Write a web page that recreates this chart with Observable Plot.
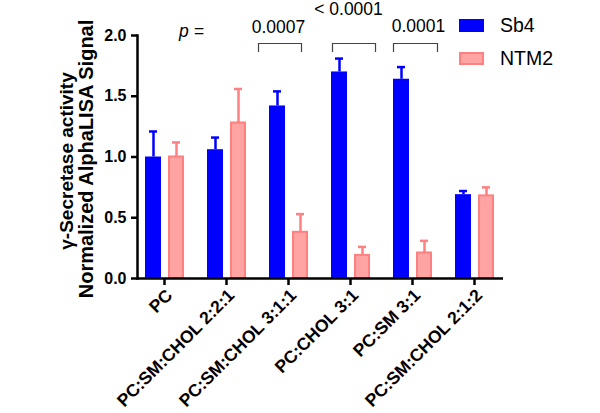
<!DOCTYPE html>
<html>
<head>
<meta charset="utf-8">
<script src="https://cdn.jsdelivr.net/npm/d3@7"></script>
<script src="https://cdn.jsdelivr.net/npm/@observablehq/plot@0.6"></script>
<style>
  html, body { margin: 0; padding: 0; background: #fff; }
  #wrap { position: relative; width: 600px; height: 413px; font-family: "Liberation Sans", Arial, Helvetica, sans-serif; }
  #wrap svg { font-family: "Liberation Sans", Arial, Helvetica, sans-serif; }
  g[aria-label="x-axis tick label"], g[aria-label="y-axis tick label"] { font-weight: bold; }
  .legend { position: absolute; left: 459px; top: 9px; font-size: 19.5px; color: #000; }
  .legend .row { display: flex; align-items: center; height: 33px; }
  .legend .sw { width: 25px; height: 13px; box-sizing: border-box; margin-right: 16px; }
</style>
</head>
<body>
<div id="wrap"></div>
<script>
// ---- data ----
const categories = ["PC", "PC:SM:CHOL 2:2:1", "PC:SM:CHOL 3:1:1", "PC:CHOL 3:1", "PC:SM 3:1", "PC:SM:CHOL 2:1:2"];
const sb4 = [1.00, 1.06, 1.42, 1.70, 1.64, 0.69];
const sb4Err = [0.21, 0.10, 0.12, 0.11, 0.10, 0.03];
const ntm2 = [1.00, 1.28, 0.38, 0.19, 0.21, 0.68];
const ntm2Err = [0.12, 0.28, 0.15, 0.07, 0.10, 0.07];
const yTicks = [0, 0.5, 1.0, 1.5, 2.0];
const seriesNames = ["Sb4", "NTM2"];
const yLabelLines = ["γ-Secretase activity", "Normalized AlphaLISA Signal"];
const pCategories = ["PC", "PC:SM:CHOL 3:1:1", "PC:CHOL 3:1", "PC:SM 3:1"];
const pTexts = ["p =", "0.0007", "< 0.0001", "0.0001"];
const bracketCategories = ["PC:SM:CHOL 3:1:1", "PC:CHOL 3:1", "PC:SM 3:1"];

// ---- styling / layout ----
const blue = "#0000ff";
const pinkFill = "#ffa3a3";
const pinkStroke = "#ff8080";
const pLevels = [2.033, 2.07, 2.214, 2.074];
const pDx = [27, -10, -2, 6];
const pItalic = [true, false, false, false];
const bracketTop = 1.934, bracketTip = 1.86;
const bracketSpans = [[1, 44], [13, 56], [12, 56]]; // px from band start

const rows = categories.map((c, i) => ({c, sb4: sb4[i], sb4e: sb4[i] + sb4Err[i], ntm2: ntm2[i], ntm2e: ntm2[i] + ntm2Err[i]}));
const pRows = pCategories.map((c, i) => ({c, t: pTexts[i], y: pLevels[i]}));

const bw = 62;
const bracketMarks = bracketCategories.flatMap((c, i) => {
  const [l, r] = bracketSpans[i];
  const d = [{c}];
  return [
    Plot.tickY(d, {x: "c", y: () => bracketTop, insetLeft: l, insetRight: bw - r, stroke: "#444", strokeWidth: 1.2}),
    Plot.ruleX(d, {x: "c", y1: () => bracketTip, y2: () => bracketTop, dx: l - bw / 2, stroke: "#444", strokeWidth: 1.2}),
    Plot.ruleX(d, {x: "c", y1: () => bracketTip, y2: () => bracketTop, dx: r - bw / 2, stroke: "#444", strokeWidth: 1.2})
  ];
});

const pMarks = pRows.map((d, i) => Plot.text([d], {
  x: "c", y: "y", text: "t", dx: pDx[i], fontSize: 17.5, fontStyle: pItalic[i] ? "italic" : "normal"
}));

const chart = Plot.plot({
  width: 600,
  height: 413,
  marginTop: 35,
  marginBottom: 135,
  marginLeft: 137,
  marginRight: 97,
  x: {domain: categories, range: [133, 505], padding: 0},
  y: {domain: [0, 2], range: [278, 35]},
  marks: [
    // error bars
    Plot.ruleX(rows, {x: "c", y1: "sb4", y2: "sb4e", dx: -11, stroke: blue, strokeWidth: 2.5}),
    Plot.tickY(rows, {x: "c", y: "sb4e", insetLeft: 16, insetRight: 38, stroke: blue, strokeWidth: 2.5}),
    Plot.ruleX(rows, {x: "c", y1: "ntm2", y2: "ntm2e", dx: 12, stroke: pinkStroke, strokeWidth: 2.5}),
    Plot.tickY(rows, {x: "c", y: "ntm2e", insetLeft: 39, insetRight: 15, stroke: pinkStroke, strokeWidth: 2.5}),
    // bars
    Plot.barY(rows, {x: "c", y: "sb4", insetLeft: 12, insetRight: 34, fill: blue}),
    Plot.barY(rows, {x: "c", y: "ntm2", insetLeft: 36, insetRight: 12, fill: pinkFill, stroke: pinkStroke, strokeWidth: 2}),
    // axes
    Plot.axisY({ticks: yTicks, tickFormat: d3.format(".1f"), tickSize: 6, tickPadding: 5, fontSize: 16, strokeWidth: 2.5, label: null}),
    Plot.axisX({tickSize: 7, tickFormat: () => "", strokeWidth: 2.5, label: null}),
    Plot.axisX({tickSize: 0, tickPadding: 14, dx: 5, tickRotate: -45, fontSize: 17.5, label: null}),
    Plot.frame({anchor: "left", strokeWidth: 2.5}),
    Plot.ruleY([0], {strokeWidth: 2.5}),
    // y label (two lines)
    Plot.text([yLabelLines[0]], {frameAnchor: "left", rotate: -90, dx: -71, dy: 4, textAnchor: "middle", lineAnchor: "middle", fontSize: 19, fontWeight: "bold"}),
    Plot.text([yLabelLines[1]], {frameAnchor: "left", rotate: -90, dx: -51, dy: 2, textAnchor: "middle", lineAnchor: "middle", fontSize: 20, fontWeight: "bold"}),
    // p-values and brackets
    ...pMarks,
    ...bracketMarks
  ]
});

document.getElementById("wrap").appendChild(chart);

const legend = document.createElement("div");
legend.className = "legend";
legend.innerHTML = `
  <div class="row"><div class="sw" style="background:${blue}"></div><span>${seriesNames[0]}</span></div>
  <div class="row"><div class="sw" style="background:${pinkFill};border:2px solid ${pinkStroke}"></div><span>${seriesNames[1]}</span></div>`;
document.getElementById("wrap").appendChild(legend);
</script>
</body>
</html>
